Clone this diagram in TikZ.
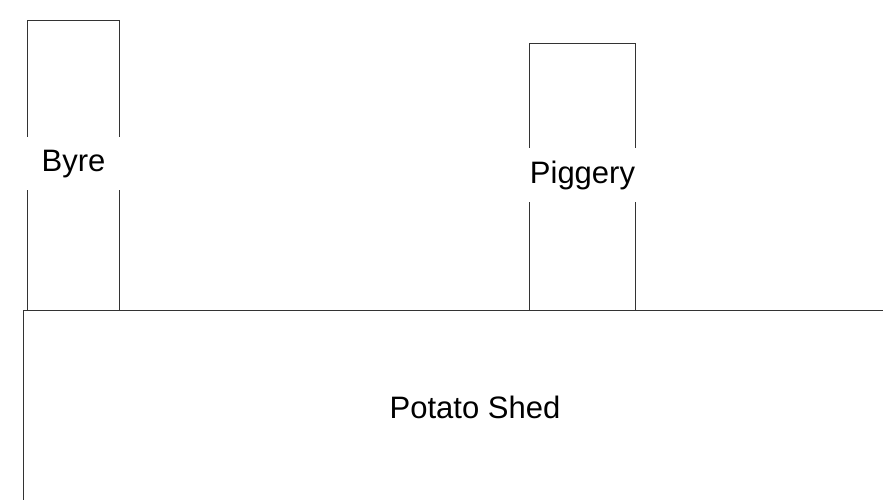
\documentclass[tikz,border=0pt]{standalone}
\usepackage{fontspec}
\setmainfont{Liberation Sans}
\usetikzlibrary{positioning}

\begin{document}
\begin{tikzpicture}[
  x=1pt, y=-1pt,
  font=\fontsize{31}{36}\selectfont,
  bldg/.style={draw=black!80, line width=1pt, anchor=north west, inner sep=0pt},
  lbl/.style={fill=white, inner xsep=18pt, inner ysep=13pt, anchor=base}
]
\useasboundingbox (0,0) rectangle (883,500);
\clip (0,0) rectangle (883,500);
\node[bldg, minimum width=92pt, minimum height=290pt] (byre) at (27,20) {};
\node[bldg, minimum width=106pt, minimum height=267pt] (piggery) at (529,43) {};
\node[bldg, minimum width=900pt, minimum height=250pt] (shed) at (22.5,310) {};
\node[lbl] (byrelbl) at (byre.center |- 0,171) {Byre};
\node[lbl] (piggerylbl) at (piggery.center |- 0,183) {Piggery};
\node[anchor=base] (shedlbl) at (475,418) {Potato Shed};
\end{tikzpicture}
\end{document}
